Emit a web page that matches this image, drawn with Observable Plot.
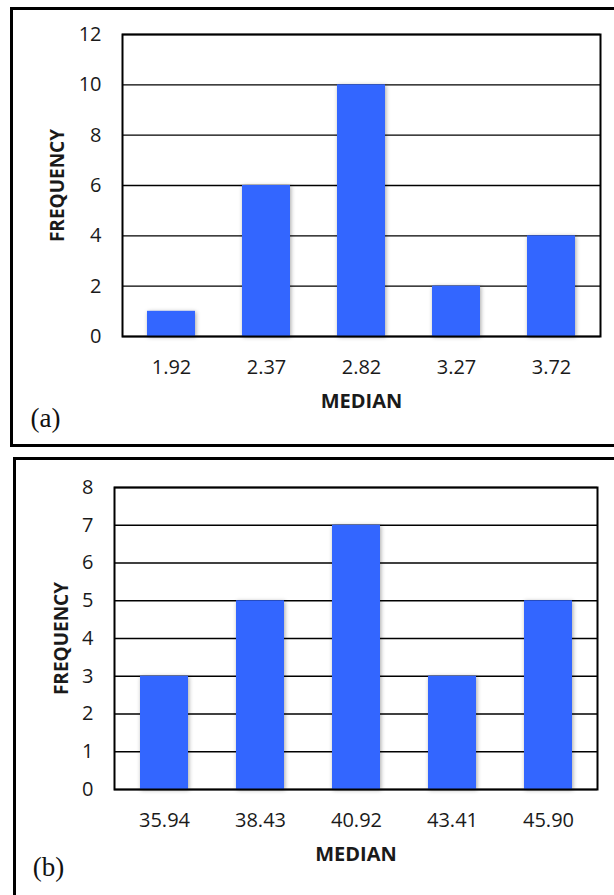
<!DOCTYPE html>
<html><head><meta charset="utf-8">
<script src="https://cdn.jsdelivr.net/npm/d3@7"></script>
<script src="https://cdn.jsdelivr.net/npm/@observablehq/plot@0.6"></script>
<style>
html,body{margin:0;padding:0;background:#fff;overflow:hidden;width:614px;height:895px;}
.box{position:absolute;border:3px solid #000;box-sizing:border-box;}
.chart{position:absolute;left:0;}
.chart svg{background:transparent !important;}
g[aria-label="bar"]{filter:drop-shadow(1px 1px 2px rgba(0,0,0,0.35));}
</style></head><body>
<div class="box" style="left:10px;top:7px;width:620px;height:440px;"></div>
<div class="box" style="left:13px;top:457px;width:620px;height:460px;"></div>
<div id="a" class="chart" style="top:0px"></div>
<div id="b" class="chart" style="top:445px"></div>
<script>
const categoriesA = ["1.92", "2.37", "2.82", "3.27", "3.72"];
const frequencyA = [1, 6, 10, 2, 4];
const yTicksA = [0, 2, 4, 6, 8, 10, 12];

const categoriesB = ["35.94", "38.43", "40.92", "43.41", "45.90"];
const frequencyB = [3, 5, 7, 3, 5];
const yTicksB = [0, 1, 2, 3, 4, 5, 6, 7, 8];

const xLabel = "MEDIAN";
const yLabel = "FREQUENCY";

function makeChart(cats, vals, ticks, panel, g) {
  const data = cats.map((c, i) => ({cat: c, freq: vals[i]}));
  return Plot.plot({
    width: 614,
    height: g.height,
    marginLeft: g.left,
    marginRight: g.right,
    marginTop: g.top,
    marginBottom: g.bottom,
    style: {background: "transparent", fontFamily: "'Open Sans', sans-serif", fontSize: "20px", color: "#1a1a1a", overflow: "visible"},
    x: {domain: cats, paddingInner: 0.5, paddingOuter: 0.25, label: null},
    y: {domain: [0, ticks[ticks.length - 1]], label: null},
    marks: [
      Plot.ruleY(ticks, {stroke: "#000", strokeWidth: 1.4}),
      Plot.barY(data, {x: "cat", y: "freq", fill: "#3366FF"}),
      Plot.frame({stroke: "#000", strokeWidth: 2}),
      Plot.axisY(ticks, {tickSize: 0, tickPadding: 21, fontSize: 20, label: null}),
      Plot.axisX({tickSize: 0, tickPadding: 23, fontSize: 20, label: null}),
      Plot.text([yLabel], {text: d => d, frameAnchor: "left", dx: g.yLabelDx, rotate: -90, textAnchor: "middle", lineAnchor: "middle", fontWeight: "bold", fontSize: 19}),
      Plot.text([xLabel], {text: d => d, frameAnchor: "bottom", dy: 65, textAnchor: "middle", lineAnchor: "middle", fontWeight: "bold", fontSize: 20}),
      Plot.text([panel], {text: d => d, frameAnchor: "bottom-left", dx: g.pDx, dy: g.pDy, textAnchor: "middle", lineAnchor: "middle", fontFamily: "'Liberation Serif', serif", fontSize: 27, fill: "#111"})
    ]
  });
}

document.getElementById("a").append(makeChart(categoriesA, frequencyA, yTicksA, "(a)",
  {height: 445, left: 122, right: 14, top: 34, bottom: 109, yLabelDx: -65, pDx: -77, pDy: 82}));
document.getElementById("b").append(makeChart(categoriesB, frequencyB, yTicksB, "(b)",
  {height: 450, left: 114, right: 17, top: 42, bottom: 106, yLabelDx: -53, pDx: -66, pDy: 78}));
</script>
</body></html>
